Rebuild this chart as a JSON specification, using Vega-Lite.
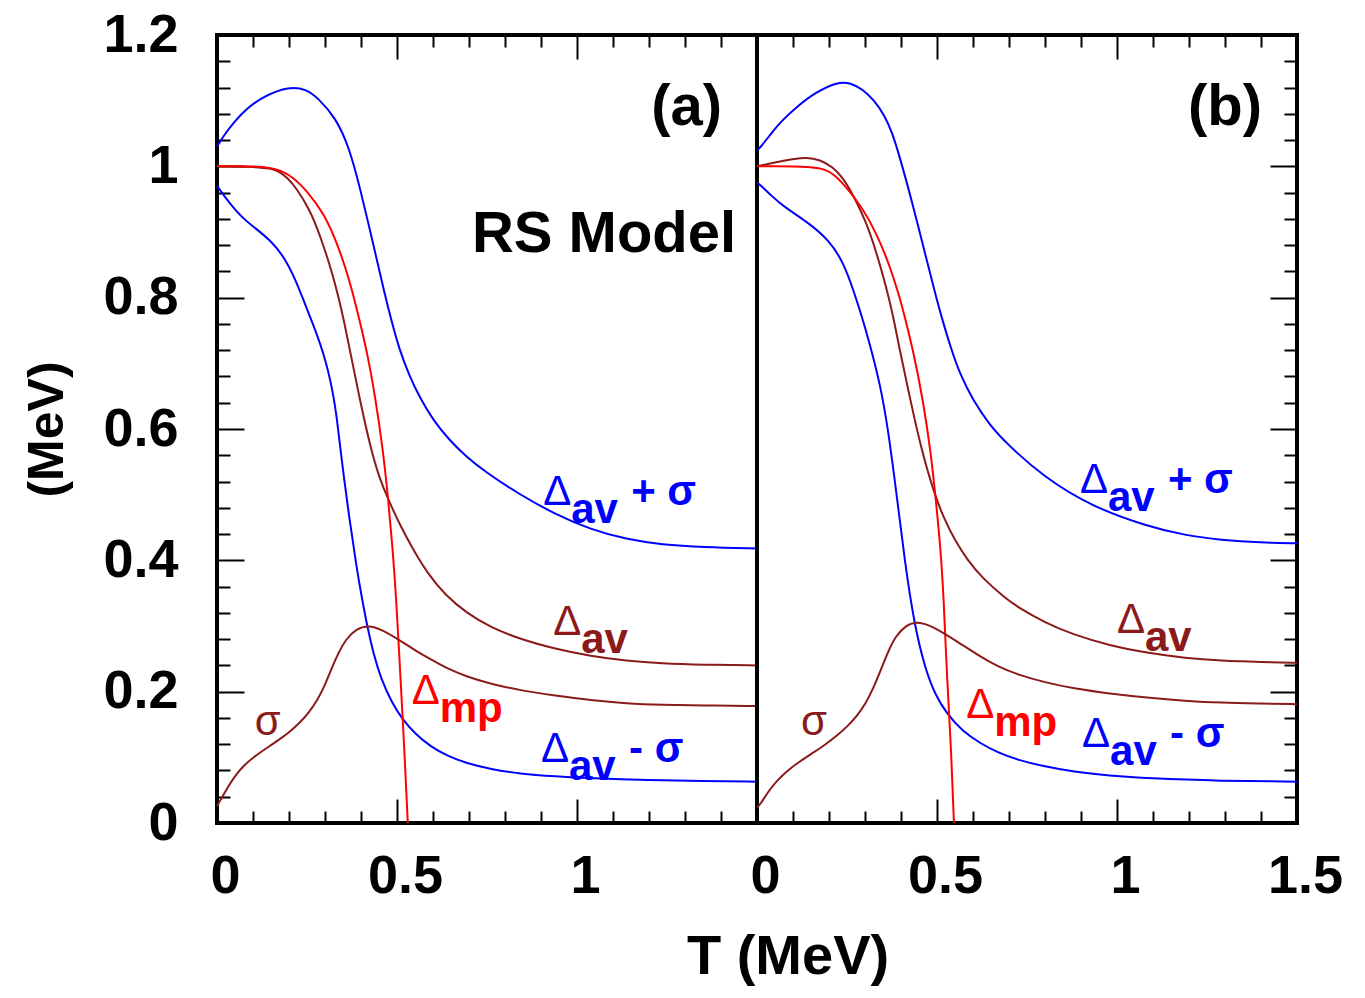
{
  "$schema": "https://vega.github.io/schema/vega-lite/v6.json",
  "background": "white",
  "padding": {"left": 20, "top": 6, "right": 10, "bottom": 5},
  "spacing": 0,
  "bounds": "flush",
  "title": {
    "text": "T (MeV)",
    "orient": "bottom",
    "anchor": "start",
    "frame": "bounds",
    "font": "Liberation Sans",
    "fontSize": 56,
    "fontWeight": "bold",
    "color": "black",
    "offset": 13,
    "dx": 666
  },
  "config": {
    "view": {"stroke": "black", "strokeWidth": 4},
    "axis": {
      "domain": false,
      "grid": false,
      "tickColor": "black",
      "tickWidth": 2,
      "labelFont": "Liberation Sans",
      "labelFontSize": 54,
      "labelFontWeight": "bold",
      "labelColor": "black",
      "labelFlush": false,
      "labelOverlap": false,
      "titleFont": "Liberation Sans",
      "titleFontSize": 50,
      "titleFontWeight": "bold",
      "titleColor": "black"
    }
  },
  "resolve": {"scale": {"x": "independent", "y": "independent"}},
  "datasets": {
    "curves": [
      {"panel": "a", "series": "Δav+σ", "T": 0, "value": 1.03},
      {"panel": "a", "series": "Δav+σ", "T": 0.02, "value": 1.048},
      {"panel": "a", "series": "Δav+σ", "T": 0.05, "value": 1.069},
      {"panel": "a", "series": "Δav+σ", "T": 0.08, "value": 1.087},
      {"panel": "a", "series": "Δav+σ", "T": 0.13, "value": 1.107},
      {"panel": "a", "series": "Δav+σ", "T": 0.2, "value": 1.122},
      {"panel": "a", "series": "Δav+σ", "T": 0.25, "value": 1.117},
      {"panel": "a", "series": "Δav+σ", "T": 0.28, "value": 1.104},
      {"panel": "a", "series": "Δav+σ", "T": 0.33, "value": 1.074},
      {"panel": "a", "series": "Δav+σ", "T": 0.367, "value": 1.029},
      {"panel": "a", "series": "Δav+σ", "T": 0.397, "value": 0.968},
      {"panel": "a", "series": "Δav+σ", "T": 0.436, "value": 0.877},
      {"panel": "a", "series": "Δav+σ", "T": 0.466, "value": 0.805},
      {"panel": "a", "series": "Δav+σ", "T": 0.486, "value": 0.762},
      {"panel": "a", "series": "Δav+σ", "T": 0.506, "value": 0.722},
      {"panel": "a", "series": "Δav+σ", "T": 0.535, "value": 0.68},
      {"panel": "a", "series": "Δav+σ", "T": 0.565, "value": 0.646},
      {"panel": "a", "series": "Δav+σ", "T": 0.6, "value": 0.614},
      {"panel": "a", "series": "Δav+σ", "T": 0.644, "value": 0.584},
      {"panel": "a", "series": "Δav+σ", "T": 0.69, "value": 0.559},
      {"panel": "a", "series": "Δav+σ", "T": 0.742, "value": 0.536},
      {"panel": "a", "series": "Δav+σ", "T": 0.841, "value": 0.5},
      {"panel": "a", "series": "Δav+σ", "T": 0.94, "value": 0.47},
      {"panel": "a", "series": "Δav+σ", "T": 1.038, "value": 0.447},
      {"panel": "a", "series": "Δav+σ", "T": 1.137, "value": 0.432},
      {"panel": "a", "series": "Δav+σ", "T": 1.235, "value": 0.424},
      {"panel": "a", "series": "Δav+σ", "T": 1.35, "value": 0.42},
      {"panel": "a", "series": "Δav+σ", "T": 1.5, "value": 0.418},

      {"panel": "a", "series": "Δav-σ", "T": 0, "value": 0.97},
      {"panel": "a", "series": "Δav-σ", "T": 0.02, "value": 0.955},
      {"panel": "a", "series": "Δav-σ", "T": 0.041, "value": 0.94},
      {"panel": "a", "series": "Δav-σ", "T": 0.07, "value": 0.922},
      {"panel": "a", "series": "Δav-σ", "T": 0.101, "value": 0.908},
      {"panel": "a", "series": "Δav-σ", "T": 0.15, "value": 0.887},
      {"panel": "a", "series": "Δav-σ", "T": 0.19, "value": 0.859},
      {"panel": "a", "series": "Δav-σ", "T": 0.219, "value": 0.826},
      {"panel": "a", "series": "Δav-σ", "T": 0.239, "value": 0.798},
      {"panel": "a", "series": "Δav-σ", "T": 0.259, "value": 0.77},
      {"panel": "a", "series": "Δav-σ", "T": 0.279, "value": 0.742},
      {"panel": "a", "series": "Δav-σ", "T": 0.295, "value": 0.716},
      {"panel": "a", "series": "Δav-σ", "T": 0.31, "value": 0.686},
      {"panel": "a", "series": "Δav-σ", "T": 0.322, "value": 0.655},
      {"panel": "a", "series": "Δav-σ", "T": 0.332, "value": 0.622},
      {"panel": "a", "series": "Δav-σ", "T": 0.348, "value": 0.545},
      {"panel": "a", "series": "Δav-σ", "T": 0.367, "value": 0.466},
      {"panel": "a", "series": "Δav-σ", "T": 0.387, "value": 0.392},
      {"panel": "a", "series": "Δav-σ", "T": 0.4, "value": 0.35},
      {"panel": "a", "series": "Δav-σ", "T": 0.417, "value": 0.3},
      {"panel": "a", "series": "Δav-σ", "T": 0.435, "value": 0.257},
      {"panel": "a", "series": "Δav-σ", "T": 0.456, "value": 0.219},
      {"panel": "a", "series": "Δav-σ", "T": 0.485, "value": 0.184},
      {"panel": "a", "series": "Δav-σ", "T": 0.515, "value": 0.158},
      {"panel": "a", "series": "Δav-σ", "T": 0.55, "value": 0.136},
      {"panel": "a", "series": "Δav-σ", "T": 0.594, "value": 0.116},
      {"panel": "a", "series": "Δav-σ", "T": 0.64, "value": 0.102},
      {"panel": "a", "series": "Δav-σ", "T": 0.693, "value": 0.091},
      {"panel": "a", "series": "Δav-σ", "T": 0.76, "value": 0.082},
      {"panel": "a", "series": "Δav-σ", "T": 0.841, "value": 0.075},
      {"panel": "a", "series": "Δav-σ", "T": 0.94, "value": 0.071},
      {"panel": "a", "series": "Δav-σ", "T": 1.038, "value": 0.068},
      {"panel": "a", "series": "Δav-σ", "T": 1.2, "value": 0.065},
      {"panel": "a", "series": "Δav-σ", "T": 1.35, "value": 0.064},
      {"panel": "a", "series": "Δav-σ", "T": 1.5, "value": 0.063},

      {"panel": "a", "series": "Δav", "T": 0, "value": 1.0},
      {"panel": "a", "series": "Δav", "T": 0.05, "value": 1.0},
      {"panel": "a", "series": "Δav", "T": 0.1, "value": 0.999},
      {"panel": "a", "series": "Δav", "T": 0.15, "value": 0.997},
      {"panel": "a", "series": "Δav", "T": 0.17, "value": 0.993},
      {"panel": "a", "series": "Δav", "T": 0.195, "value": 0.983},
      {"panel": "a", "series": "Δav", "T": 0.219, "value": 0.968},
      {"panel": "a", "series": "Δav", "T": 0.259, "value": 0.933},
      {"panel": "a", "series": "Δav", "T": 0.288, "value": 0.892},
      {"panel": "a", "series": "Δav", "T": 0.318, "value": 0.842},
      {"panel": "a", "series": "Δav", "T": 0.338, "value": 0.8},
      {"panel": "a", "series": "Δav", "T": 0.353, "value": 0.764},
      {"panel": "a", "series": "Δav", "T": 0.367, "value": 0.726},
      {"panel": "a", "series": "Δav", "T": 0.397, "value": 0.644},
      {"panel": "a", "series": "Δav", "T": 0.427, "value": 0.57},
      {"panel": "a", "series": "Δav", "T": 0.45, "value": 0.527},
      {"panel": "a", "series": "Δav", "T": 0.476, "value": 0.492},
      {"panel": "a", "series": "Δav", "T": 0.51, "value": 0.452},
      {"panel": "a", "series": "Δav", "T": 0.545, "value": 0.416},
      {"panel": "a", "series": "Δav", "T": 0.585, "value": 0.38},
      {"panel": "a", "series": "Δav", "T": 0.634, "value": 0.347},
      {"panel": "a", "series": "Δav", "T": 0.693, "value": 0.32},
      {"panel": "a", "series": "Δav", "T": 0.76, "value": 0.298},
      {"panel": "a", "series": "Δav", "T": 0.841, "value": 0.28},
      {"panel": "a", "series": "Δav", "T": 0.94, "value": 0.265},
      {"panel": "a", "series": "Δav", "T": 1.038, "value": 0.254},
      {"panel": "a", "series": "Δav", "T": 1.137, "value": 0.247},
      {"panel": "a", "series": "Δav", "T": 1.235, "value": 0.243},
      {"panel": "a", "series": "Δav", "T": 1.35, "value": 0.241},
      {"panel": "a", "series": "Δav", "T": 1.5, "value": 0.24},

      {"panel": "a", "series": "Δmp", "T": 0, "value": 1.0},
      {"panel": "a", "series": "Δmp", "T": 0.05, "value": 1.0},
      {"panel": "a", "series": "Δmp", "T": 0.1, "value": 1.0},
      {"panel": "a", "series": "Δmp", "T": 0.15, "value": 0.998},
      {"panel": "a", "series": "Δmp", "T": 0.175, "value": 0.994},
      {"panel": "a", "series": "Δmp", "T": 0.21, "value": 0.984},
      {"panel": "a", "series": "Δmp", "T": 0.249, "value": 0.963},
      {"panel": "a", "series": "Δmp", "T": 0.298, "value": 0.928},
      {"panel": "a", "series": "Δmp", "T": 0.338, "value": 0.877},
      {"panel": "a", "series": "Δmp", "T": 0.367, "value": 0.828},
      {"panel": "a", "series": "Δmp", "T": 0.387, "value": 0.786},
      {"panel": "a", "series": "Δmp", "T": 0.417, "value": 0.718},
      {"panel": "a", "series": "Δmp", "T": 0.441, "value": 0.644},
      {"panel": "a", "series": "Δmp", "T": 0.461, "value": 0.568},
      {"panel": "a", "series": "Δmp", "T": 0.476, "value": 0.492},
      {"panel": "a", "series": "Δmp", "T": 0.488, "value": 0.416},
      {"panel": "a", "series": "Δmp", "T": 0.497, "value": 0.35},
      {"panel": "a", "series": "Δmp", "T": 0.51, "value": 0.218},
      {"panel": "a", "series": "Δmp", "T": 0.52, "value": 0.116},
      {"panel": "a", "series": "Δmp", "T": 0.53, "value": 0.0},

      {"panel": "a", "series": "σ", "T": 0, "value": 0.026},
      {"panel": "a", "series": "σ", "T": 0.007, "value": 0.032},
      {"panel": "a", "series": "σ", "T": 0.03, "value": 0.055},
      {"panel": "a", "series": "σ", "T": 0.052, "value": 0.073},
      {"panel": "a", "series": "σ", "T": 0.075, "value": 0.088},
      {"panel": "a", "series": "σ", "T": 0.101, "value": 0.1},
      {"panel": "a", "series": "σ", "T": 0.135, "value": 0.113},
      {"panel": "a", "series": "σ", "T": 0.17, "value": 0.126},
      {"panel": "a", "series": "σ", "T": 0.2, "value": 0.138},
      {"panel": "a", "series": "σ", "T": 0.229, "value": 0.152},
      {"panel": "a", "series": "σ", "T": 0.255, "value": 0.168},
      {"panel": "a", "series": "σ", "T": 0.279, "value": 0.187},
      {"panel": "a", "series": "σ", "T": 0.3, "value": 0.21},
      {"panel": "a", "series": "σ", "T": 0.318, "value": 0.235},
      {"panel": "a", "series": "σ", "T": 0.338, "value": 0.26},
      {"panel": "a", "series": "σ", "T": 0.357, "value": 0.279},
      {"panel": "a", "series": "σ", "T": 0.387, "value": 0.296},
      {"panel": "a", "series": "σ", "T": 0.421, "value": 0.301},
      {"panel": "a", "series": "σ", "T": 0.456, "value": 0.295},
      {"panel": "a", "series": "σ", "T": 0.506, "value": 0.279},
      {"panel": "a", "series": "σ", "T": 0.55, "value": 0.263},
      {"panel": "a", "series": "σ", "T": 0.594, "value": 0.249},
      {"panel": "a", "series": "σ", "T": 0.64, "value": 0.235},
      {"panel": "a", "series": "σ", "T": 0.693, "value": 0.223},
      {"panel": "a", "series": "σ", "T": 0.76, "value": 0.212},
      {"panel": "a", "series": "σ", "T": 0.841, "value": 0.202},
      {"panel": "a", "series": "σ", "T": 0.94, "value": 0.194},
      {"panel": "a", "series": "σ", "T": 1.038, "value": 0.187},
      {"panel": "a", "series": "σ", "T": 1.137, "value": 0.182},
      {"panel": "a", "series": "σ", "T": 1.235, "value": 0.18},
      {"panel": "a", "series": "σ", "T": 1.35, "value": 0.179},
      {"panel": "a", "series": "σ", "T": 1.5, "value": 0.178},

      {"panel": "b", "series": "Δav+σ", "T": 0, "value": 1.025},
      {"panel": "b", "series": "Δav+σ", "T": 0.009, "value": 1.028},
      {"panel": "b", "series": "Δav+σ", "T": 0.04, "value": 1.051},
      {"panel": "b", "series": "Δav+σ", "T": 0.07, "value": 1.07},
      {"panel": "b", "series": "Δav+σ", "T": 0.107, "value": 1.089},
      {"panel": "b", "series": "Δav+σ", "T": 0.16, "value": 1.112},
      {"panel": "b", "series": "Δav+σ", "T": 0.225, "value": 1.129},
      {"panel": "b", "series": "Δav+σ", "T": 0.26, "value": 1.127},
      {"panel": "b", "series": "Δav+σ", "T": 0.292, "value": 1.118},
      {"panel": "b", "series": "Δav+σ", "T": 0.325, "value": 1.101},
      {"panel": "b", "series": "Δav+σ", "T": 0.354, "value": 1.078},
      {"panel": "b", "series": "Δav+σ", "T": 0.375, "value": 1.052},
      {"panel": "b", "series": "Δav+σ", "T": 0.394, "value": 1.019},
      {"panel": "b", "series": "Δav+σ", "T": 0.426, "value": 0.956},
      {"panel": "b", "series": "Δav+σ", "T": 0.467, "value": 0.867},
      {"panel": "b", "series": "Δav+σ", "T": 0.497, "value": 0.802},
      {"panel": "b", "series": "Δav+σ", "T": 0.513, "value": 0.77},
      {"panel": "b", "series": "Δav+σ", "T": 0.539, "value": 0.722},
      {"panel": "b", "series": "Δav+σ", "T": 0.565, "value": 0.682},
      {"panel": "b", "series": "Δav+σ", "T": 0.6, "value": 0.644},
      {"panel": "b", "series": "Δav+σ", "T": 0.645, "value": 0.607},
      {"panel": "b", "series": "Δav+σ", "T": 0.693, "value": 0.578},
      {"panel": "b", "series": "Δav+σ", "T": 0.796, "value": 0.527},
      {"panel": "b", "series": "Δav+σ", "T": 0.929, "value": 0.482},
      {"panel": "b", "series": "Δav+σ", "T": 1.083, "value": 0.452},
      {"panel": "b", "series": "Δav+σ", "T": 1.19, "value": 0.438},
      {"panel": "b", "series": "Δav+σ", "T": 1.289, "value": 0.431},
      {"panel": "b", "series": "Δav+σ", "T": 1.4, "value": 0.427},
      {"panel": "b", "series": "Δav+σ", "T": 1.5, "value": 0.426},

      {"panel": "b", "series": "Δav-σ", "T": 0, "value": 0.975},
      {"panel": "b", "series": "Δav-σ", "T": 0.009, "value": 0.972},
      {"panel": "b", "series": "Δav-σ", "T": 0.04, "value": 0.955},
      {"panel": "b", "series": "Δav-σ", "T": 0.076, "value": 0.938},
      {"panel": "b", "series": "Δav-σ", "T": 0.138, "value": 0.916},
      {"panel": "b", "series": "Δav-σ", "T": 0.2, "value": 0.888},
      {"panel": "b", "series": "Δav-σ", "T": 0.241, "value": 0.853},
      {"panel": "b", "series": "Δav-σ", "T": 0.271, "value": 0.806},
      {"panel": "b", "series": "Δav-σ", "T": 0.292, "value": 0.77},
      {"panel": "b", "series": "Δav-σ", "T": 0.313, "value": 0.73},
      {"panel": "b", "series": "Δav-σ", "T": 0.343, "value": 0.666},
      {"panel": "b", "series": "Δav-σ", "T": 0.364, "value": 0.6},
      {"panel": "b", "series": "Δav-σ", "T": 0.388, "value": 0.5},
      {"panel": "b", "series": "Δav-σ", "T": 0.41, "value": 0.4},
      {"panel": "b", "series": "Δav-σ", "T": 0.437, "value": 0.302},
      {"panel": "b", "series": "Δav-σ", "T": 0.467, "value": 0.235},
      {"panel": "b", "series": "Δav-σ", "T": 0.495, "value": 0.195},
      {"panel": "b", "series": "Δav-σ", "T": 0.528, "value": 0.166},
      {"panel": "b", "series": "Δav-σ", "T": 0.57, "value": 0.14},
      {"panel": "b", "series": "Δav-σ", "T": 0.621, "value": 0.121},
      {"panel": "b", "series": "Δav-σ", "T": 0.67, "value": 0.107},
      {"panel": "b", "series": "Δav-σ", "T": 0.724, "value": 0.096},
      {"panel": "b", "series": "Δav-σ", "T": 0.8, "value": 0.086},
      {"panel": "b", "series": "Δav-σ", "T": 0.878, "value": 0.078},
      {"panel": "b", "series": "Δav-σ", "T": 0.98, "value": 0.072},
      {"panel": "b", "series": "Δav-σ", "T": 1.083, "value": 0.068},
      {"panel": "b", "series": "Δav-σ", "T": 1.289, "value": 0.064},
      {"panel": "b", "series": "Δav-σ", "T": 1.5, "value": 0.063},

      {"panel": "b", "series": "Δav", "T": 0, "value": 1.0},
      {"panel": "b", "series": "Δav", "T": 0.05, "value": 1.006},
      {"panel": "b", "series": "Δav", "T": 0.1, "value": 1.011},
      {"panel": "b", "series": "Δav", "T": 0.138, "value": 1.014},
      {"panel": "b", "series": "Δav", "T": 0.175, "value": 1.01},
      {"panel": "b", "series": "Δav", "T": 0.21, "value": 0.999},
      {"panel": "b", "series": "Δav", "T": 0.235, "value": 0.985},
      {"panel": "b", "series": "Δav", "T": 0.261, "value": 0.963},
      {"panel": "b", "series": "Δav", "T": 0.302, "value": 0.918},
      {"panel": "b", "series": "Δav", "T": 0.333, "value": 0.867},
      {"panel": "b", "series": "Δav", "T": 0.359, "value": 0.816},
      {"panel": "b", "series": "Δav", "T": 0.379, "value": 0.77},
      {"panel": "b", "series": "Δav", "T": 0.394, "value": 0.727},
      {"panel": "b", "series": "Δav", "T": 0.426, "value": 0.644},
      {"panel": "b", "series": "Δav", "T": 0.456, "value": 0.57},
      {"panel": "b", "series": "Δav", "T": 0.492, "value": 0.502},
      {"panel": "b", "series": "Δav", "T": 0.52, "value": 0.463},
      {"panel": "b", "series": "Δav", "T": 0.549, "value": 0.431},
      {"panel": "b", "series": "Δav", "T": 0.585, "value": 0.4},
      {"panel": "b", "series": "Δav", "T": 0.626, "value": 0.373},
      {"panel": "b", "series": "Δav", "T": 0.688, "value": 0.343},
      {"panel": "b", "series": "Δav", "T": 0.724, "value": 0.329},
      {"panel": "b", "series": "Δav", "T": 0.8, "value": 0.305},
      {"panel": "b", "series": "Δav", "T": 0.878, "value": 0.287},
      {"panel": "b", "series": "Δav", "T": 0.98, "value": 0.27},
      {"panel": "b", "series": "Δav", "T": 1.083, "value": 0.259},
      {"panel": "b", "series": "Δav", "T": 1.19, "value": 0.251},
      {"panel": "b", "series": "Δav", "T": 1.289, "value": 0.247},
      {"panel": "b", "series": "Δav", "T": 1.4, "value": 0.245},
      {"panel": "b", "series": "Δav", "T": 1.5, "value": 0.244},

      {"panel": "b", "series": "Δmp", "T": 0, "value": 1.0},
      {"panel": "b", "series": "Δmp", "T": 0.05, "value": 1.0},
      {"panel": "b", "series": "Δmp", "T": 0.1, "value": 1.0},
      {"panel": "b", "series": "Δmp", "T": 0.15, "value": 0.999},
      {"panel": "b", "series": "Δmp", "T": 0.189, "value": 0.996},
      {"panel": "b", "series": "Δmp", "T": 0.215, "value": 0.987},
      {"panel": "b", "series": "Δmp", "T": 0.241, "value": 0.973},
      {"panel": "b", "series": "Δmp", "T": 0.292, "value": 0.938},
      {"panel": "b", "series": "Δmp", "T": 0.333, "value": 0.897},
      {"panel": "b", "series": "Δmp", "T": 0.369, "value": 0.848},
      {"panel": "b", "series": "Δmp", "T": 0.394, "value": 0.805},
      {"panel": "b", "series": "Δmp", "T": 0.41, "value": 0.772},
      {"panel": "b", "series": "Δmp", "T": 0.436, "value": 0.714},
      {"panel": "b", "series": "Δmp", "T": 0.461, "value": 0.644},
      {"panel": "b", "series": "Δmp", "T": 0.482, "value": 0.568},
      {"panel": "b", "series": "Δmp", "T": 0.497, "value": 0.492},
      {"panel": "b", "series": "Δmp", "T": 0.51, "value": 0.416},
      {"panel": "b", "series": "Δmp", "T": 0.518, "value": 0.35},
      {"panel": "b", "series": "Δmp", "T": 0.528, "value": 0.218},
      {"panel": "b", "series": "Δmp", "T": 0.539, "value": 0.116},
      {"panel": "b", "series": "Δmp", "T": 0.547, "value": 0.0},

      {"panel": "b", "series": "σ", "T": 0, "value": 0.024},
      {"panel": "b", "series": "σ", "T": 0.009, "value": 0.028},
      {"panel": "b", "series": "σ", "T": 0.03, "value": 0.047},
      {"panel": "b", "series": "σ", "T": 0.056, "value": 0.065},
      {"panel": "b", "series": "σ", "T": 0.085, "value": 0.08},
      {"panel": "b", "series": "σ", "T": 0.117, "value": 0.093},
      {"panel": "b", "series": "σ", "T": 0.15, "value": 0.105},
      {"panel": "b", "series": "σ", "T": 0.189, "value": 0.119},
      {"panel": "b", "series": "σ", "T": 0.22, "value": 0.132},
      {"panel": "b", "series": "σ", "T": 0.251, "value": 0.147},
      {"panel": "b", "series": "σ", "T": 0.278, "value": 0.163},
      {"panel": "b", "series": "σ", "T": 0.302, "value": 0.182},
      {"panel": "b", "series": "σ", "T": 0.323, "value": 0.205},
      {"panel": "b", "series": "σ", "T": 0.343, "value": 0.232},
      {"panel": "b", "series": "σ", "T": 0.365, "value": 0.262},
      {"panel": "b", "series": "σ", "T": 0.384, "value": 0.284},
      {"panel": "b", "series": "σ", "T": 0.415, "value": 0.302},
      {"panel": "b", "series": "σ", "T": 0.446, "value": 0.307},
      {"panel": "b", "series": "σ", "T": 0.487, "value": 0.3},
      {"panel": "b", "series": "σ", "T": 0.549, "value": 0.279},
      {"panel": "b", "series": "σ", "T": 0.621, "value": 0.253},
      {"panel": "b", "series": "σ", "T": 0.67, "value": 0.238},
      {"panel": "b", "series": "σ", "T": 0.724, "value": 0.226},
      {"panel": "b", "series": "σ", "T": 0.8, "value": 0.214},
      {"panel": "b", "series": "σ", "T": 0.878, "value": 0.205},
      {"panel": "b", "series": "σ", "T": 0.98, "value": 0.197},
      {"panel": "b", "series": "σ", "T": 1.083, "value": 0.191},
      {"panel": "b", "series": "σ", "T": 1.19, "value": 0.186},
      {"panel": "b", "series": "σ", "T": 1.289, "value": 0.183},
      {"panel": "b", "series": "σ", "T": 1.4, "value": 0.182},
      {"panel": "b", "series": "σ", "T": 1.5, "value": 0.181}
    ],
    "labels": [
      {"panel": "a", "series": "Δav+σ", "T": 0.906, "value": 0.484, "sym": "Δ", "sub": "av", "rest": "+  σ"},
      {"panel": "a", "series": "Δav", "T": 0.934, "value": 0.286, "sym": "Δ", "sub": "av", "rest": ""},
      {"panel": "a", "series": "Δmp", "T": 0.541, "value": 0.181, "sym": "Δ", "sub": "mp", "rest": ""},
      {"panel": "a", "series": "Δav-σ", "T": 0.9, "value": 0.093, "sym": "Δ", "sub": "av", "rest": "-  σ"},
      {"panel": "a", "series": "σ", "T": 0.105, "value": 0.134, "sym": "σ", "sub": "", "rest": ""},
      {"panel": "b", "series": "Δav+σ", "T": 0.897, "value": 0.502, "sym": "Δ", "sub": "av", "rest": "+  σ"},
      {"panel": "b", "series": "Δav", "T": 1.0, "value": 0.289, "sym": "Δ", "sub": "av", "rest": ""},
      {"panel": "b", "series": "Δmp", "T": 0.581, "value": 0.16, "sym": "Δ", "sub": "mp", "rest": ""},
      {"panel": "b", "series": "Δav-σ", "T": 0.903, "value": 0.116, "sym": "Δ", "sub": "av", "rest": "-  σ"},
      {"panel": "b", "series": "σ", "T": 0.122, "value": 0.134, "sym": "σ", "sub": "", "rest": ""}
    ],
    "notes": [
      {"panel": "a", "T": 1.403, "value": 1.063, "text": "(a)"},
      {"panel": "a", "T": 1.442, "value": 0.869, "text": "RS Model"},
      {"panel": "b", "T": 1.403, "value": 1.063, "text": "(b)"}
    ]
  },
  "hconcat": [
    {
      "width": 540,
      "height": 788,
      "resolve": {"axis": {"x": "independent"}},
      "layer": [
        {
          "data": {"name": "curves"},
          "transform": [{"filter": "datum.panel === 'a'"}],
          "mark": {"type": "line", "strokeWidth": 2, "interpolate": "basis"},
          "encoding": {
            "x": {
              "field": "T", "type": "quantitative",
              "scale": {"domain": [0, 1.5], "nice": false, "zero": false},
              "axis": {
                "orient": "bottom", "title": null, "tickCount": 40,
                "values": [0, 0.1, 0.2, 0.3, 0.4, 0.5, 0.6, 0.7, 0.8, 0.9, 1, 1.1, 1.2, 1.3, 1.4, 1.5],
                "tickSize": {"condition": {"test": "abs(datum.value * 2 - round(datum.value * 2)) < 0.001", "value": -24}, "value": -12},
                "labelExpr": "abs(datum.value * 2 - round(datum.value * 2)) < 0.001 && datum.value < 1.4 ? format(datum.value, '~g') : ''",
                "labelPadding": 50,
                "labelOffset": 8
              }
            },
            "y": {
              "field": "value", "type": "quantitative",
              "scale": {"domain": [0, 1.2], "nice": false, "zero": false},
              "axis": {
                "orient": "left", "title": "(MeV)", "tickCount": 40,
                "values": [0, 0.04, 0.08, 0.12, 0.16, 0.2, 0.24, 0.28, 0.32, 0.36, 0.4, 0.44, 0.48, 0.52, 0.56, 0.6, 0.64, 0.68, 0.72, 0.76, 0.8, 0.84, 0.88, 0.92, 0.96, 1, 1.04, 1.08, 1.12, 1.16, 1.2],
                "tickSize": {"condition": {"test": "abs(datum.value * 5 - round(datum.value * 5)) < 0.001", "value": -27}, "value": -13},
                "labelExpr": "abs(datum.value * 5 - round(datum.value * 5)) < 0.001 ? format(datum.value, '~g') : ''",
                "labelPadding": 66,
                "titlePadding": 30
              }
            },
            "color": {
              "field": "series", "type": "nominal", "legend": null,
              "scale": {"domain": ["Δav+σ", "Δav-σ", "Δav", "Δmp", "σ"], "range": ["#0000ff", "#0000ff", "#8b1a1a", "#ff0000", "#8b1a1a"]}
            },
            "order": {"field": "T", "type": "quantitative"}
          }
        },
        {
          "data": {"name": "labels"},
          "transform": [{"filter": "datum.panel === 'a'"}],
          "mark": {"type": "text", "align": "left", "baseline": "alphabetic", "font": "Liberation Sans", "fontSize": 42, "fontWeight": "normal"},
          "encoding": {
            "x": {"field": "T", "type": "quantitative", "axis": null},
            "y": {"field": "value", "type": "quantitative"},
            "text": {"field": "sym"},
            "color": {"field": "series", "type": "nominal", "legend": null}
          }
        },
        {
          "data": {"name": "labels"},
          "transform": [{"filter": "datum.panel === 'a'"}],
          "mark": {"type": "text", "align": "left", "baseline": "alphabetic", "font": "Liberation Sans", "fontSize": 42, "fontWeight": "bold", "dx": 28, "dy": 18},
          "encoding": {
            "x": {"field": "T", "type": "quantitative", "axis": null},
            "y": {"field": "value", "type": "quantitative"},
            "text": {"field": "sub"},
            "color": {"field": "series", "type": "nominal", "legend": null}
          }
        },
        {
          "data": {"name": "labels"},
          "transform": [{"filter": "datum.panel === 'a'"}],
          "mark": {"type": "text", "align": "left", "baseline": "alphabetic", "font": "Liberation Sans", "fontSize": 42, "fontWeight": "bold", "dx": 88},
          "encoding": {
            "x": {"field": "T", "type": "quantitative", "axis": null},
            "y": {"field": "value", "type": "quantitative"},
            "text": {"field": "rest"},
            "color": {"field": "series", "type": "nominal", "legend": null}
          }
        },
        {
          "data": {"name": "notes"},
          "transform": [{"filter": "datum.panel === 'a'"}],
          "mark": {"type": "text", "align": "right", "baseline": "alphabetic", "font": "Liberation Sans", "fontSize": 58, "fontWeight": "bold", "color": "black"},
          "encoding": {
            "x": {
              "field": "T", "type": "quantitative",
              "axis": {
                "orient": "top", "title": null, "labels": false, "tickCount": 40,
                "values": [0, 0.1, 0.2, 0.3, 0.4, 0.5, 0.6, 0.7, 0.8, 0.9, 1, 1.1, 1.2, 1.3, 1.4, 1.5],
                "tickSize": {"condition": {"test": "abs(datum.value * 2 - round(datum.value * 2)) < 0.001", "value": -24}, "value": -12}
              }
            },
            "y": {"field": "value", "type": "quantitative"},
            "text": {"field": "text"}
          }
        }
      ]
    },
    {
      "width": 540,
      "height": 788,
      "resolve": {"axis": {"x": "independent"}},
      "layer": [
        {
          "data": {"name": "curves"},
          "transform": [{"filter": "datum.panel === 'b'"}],
          "mark": {"type": "line", "strokeWidth": 2, "interpolate": "basis"},
          "encoding": {
            "x": {
              "field": "T", "type": "quantitative",
              "scale": {"domain": [0, 1.5], "nice": false, "zero": false},
              "axis": {
                "orient": "bottom", "title": null, "tickCount": 40,
                "values": [0, 0.1, 0.2, 0.3, 0.4, 0.5, 0.6, 0.7, 0.8, 0.9, 1, 1.1, 1.2, 1.3, 1.4, 1.5],
                "tickSize": {"condition": {"test": "abs(datum.value * 2 - round(datum.value * 2)) < 0.001", "value": -24}, "value": -12},
                "labelExpr": "abs(datum.value * 2 - round(datum.value * 2)) < 0.001 ? format(datum.value, '~g') : ''",
                "labelPadding": 50,
                "labelOffset": 8
              }
            },
            "y": {
              "field": "value", "type": "quantitative",
              "scale": {"domain": [0, 1.2], "nice": false, "zero": false},
              "axis": {
                "orient": "right", "title": null, "labels": false, "tickCount": 40,
                "values": [0, 0.04, 0.08, 0.12, 0.16, 0.2, 0.24, 0.28, 0.32, 0.36, 0.4, 0.44, 0.48, 0.52, 0.56, 0.6, 0.64, 0.68, 0.72, 0.76, 0.8, 0.84, 0.88, 0.92, 0.96, 1, 1.04, 1.08, 1.12, 1.16, 1.2],
                "tickSize": {"condition": {"test": "abs(datum.value * 5 - round(datum.value * 5)) < 0.001", "value": -27}, "value": -13}
              }
            },
            "color": {
              "field": "series", "type": "nominal", "legend": null,
              "scale": {"domain": ["Δav+σ", "Δav-σ", "Δav", "Δmp", "σ"], "range": ["#0000ff", "#0000ff", "#8b1a1a", "#ff0000", "#8b1a1a"]}
            },
            "order": {"field": "T", "type": "quantitative"}
          }
        },
        {
          "data": {"name": "labels"},
          "transform": [{"filter": "datum.panel === 'b'"}],
          "mark": {"type": "text", "align": "left", "baseline": "alphabetic", "font": "Liberation Sans", "fontSize": 42, "fontWeight": "normal"},
          "encoding": {
            "x": {"field": "T", "type": "quantitative", "axis": null},
            "y": {"field": "value", "type": "quantitative"},
            "text": {"field": "sym"},
            "color": {"field": "series", "type": "nominal", "legend": null}
          }
        },
        {
          "data": {"name": "labels"},
          "transform": [{"filter": "datum.panel === 'b'"}],
          "mark": {"type": "text", "align": "left", "baseline": "alphabetic", "font": "Liberation Sans", "fontSize": 42, "fontWeight": "bold", "dx": 28, "dy": 18},
          "encoding": {
            "x": {"field": "T", "type": "quantitative", "axis": null},
            "y": {"field": "value", "type": "quantitative"},
            "text": {"field": "sub"},
            "color": {"field": "series", "type": "nominal", "legend": null}
          }
        },
        {
          "data": {"name": "labels"},
          "transform": [{"filter": "datum.panel === 'b'"}],
          "mark": {"type": "text", "align": "left", "baseline": "alphabetic", "font": "Liberation Sans", "fontSize": 42, "fontWeight": "bold", "dx": 88},
          "encoding": {
            "x": {"field": "T", "type": "quantitative", "axis": null},
            "y": {"field": "value", "type": "quantitative"},
            "text": {"field": "rest"},
            "color": {"field": "series", "type": "nominal", "legend": null}
          }
        },
        {
          "data": {"name": "notes"},
          "transform": [{"filter": "datum.panel === 'b'"}],
          "mark": {"type": "text", "align": "right", "baseline": "alphabetic", "font": "Liberation Sans", "fontSize": 58, "fontWeight": "bold", "color": "black"},
          "encoding": {
            "x": {
              "field": "T", "type": "quantitative",
              "axis": {
                "orient": "top", "title": null, "labels": false, "tickCount": 40,
                "values": [0, 0.1, 0.2, 0.3, 0.4, 0.5, 0.6, 0.7, 0.8, 0.9, 1, 1.1, 1.2, 1.3, 1.4, 1.5],
                "tickSize": {"condition": {"test": "abs(datum.value * 2 - round(datum.value * 2)) < 0.001", "value": -24}, "value": -12}
              }
            },
            "y": {"field": "value", "type": "quantitative"},
            "text": {"field": "text"}
          }
        }
      ]
    }
  ]
}
